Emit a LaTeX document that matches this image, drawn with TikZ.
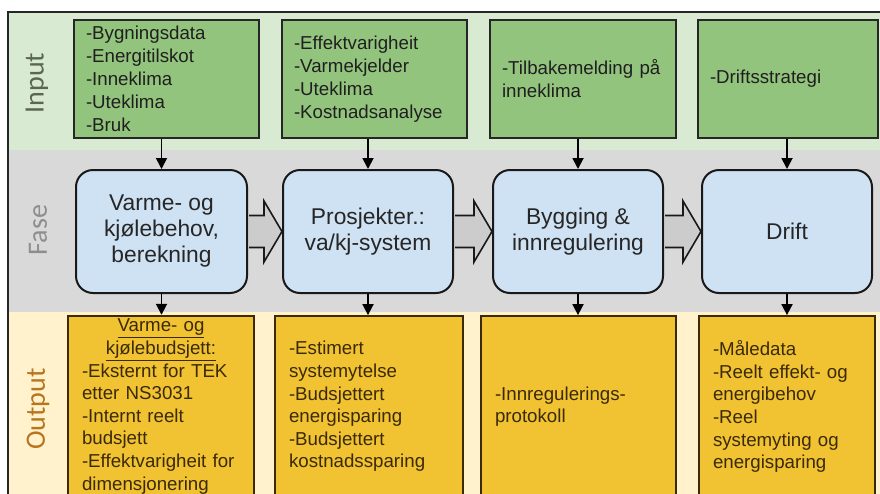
\documentclass[tikz,border=0pt]{standalone}
\usepackage{fontspec}
\setmainfont{Liberation Sans}
\newfontfamily\bandfont{Carlito}
\usetikzlibrary{arrows.meta,positioning,calc}

\definecolor{inband}{HTML}{D9EAD3}
\definecolor{faseband}{HTML}{D9D9D9}
\definecolor{outband}{HTML}{FFF2CC}
\definecolor{ingreen}{HTML}{93C47D}
\definecolor{faseblue}{HTML}{CFE2F3}
\definecolor{outorange}{HTML}{F1C232}
\definecolor{intext}{HTML}{5A6650}
\definecolor{fasetext}{HTML}{8E8E8E}
\definecolor{outtext}{HTML}{B8751F}
\definecolor{brownink}{HTML}{3A2A08}

\begin{document}
\begin{tikzpicture}[
  x=1pt, y=-1pt,
  % Node Styles
  inbox/.style={draw=black!85, line width=1.8pt, fill=ingreen, align=left, minimum height=118pt,
    inner xsep=12pt, text=black!88, font=\fontsize{18.7pt}{23pt}\selectfont},
  fasebox/.style={draw=black!90, line width=2pt, fill=faseblue, rounded corners=17pt, align=center,
    minimum width=170pt, minimum height=123pt, text=black!85, font=\fontsize{22.8pt}{26pt}\selectfont},
  outbox/.style={draw=brownink, line width=1.8pt, fill=outorange, align=left, minimum height=181pt,
    inner xsep=14pt, text=brownink, font=\fontsize{18.7pt}{22.6pt}\selectfont},
  bandlbl/.style={rotate=90, font=\bandfont\fontsize{28pt}{30pt}\selectfont},
  % Line Styles
  flow/.style={-{Triangle[length=11pt,width=11pt]}, line width=1.8pt, black},
  bigarrow/.style={draw=black!90, line width=1.6pt, fill=black!20, line join=miter}
]

\useasboundingbox (0,0) rectangle (880,493);
\clip (0,0) rectangle (880,493);

% ================= BANDS =================
\fill[inband]   (8,12)  rectangle (884,150);
\fill[faseband] (8,150) rectangle (884,312);
\fill[outband]  (8,312) rectangle (884,505);
\draw[line width=1.2pt, black!85] (8,12) rectangle (884,505);

\node[bandlbl, text=intext]   (lblin)   at (37,83)  {Input};
\node[bandlbl, text=fasetext] (lblfase) at (38,230) {Fase};
\node[bandlbl, text=outtext]  (lblout)  at (38,409) {Output};

% ================= NODES =================

% --- Input (Top Row) ---
\node[inbox, text width=161pt] (in1) at (166.5,79) {-Bygningsdata\\-Energitilskot\\-Inneklima\\-Uteklima\\-Bruk};
\node[inbox, text width=161pt] (in2) at (374.5,79) {-Effektvarigheit\\-Varmekjelder\\-Uteklima\\-Kostnadsanalyse};
\node[inbox, text width=162pt] (in3) at (583,79)   {-Tilbakemelding på\\inneklima};
\node[inbox, text width=156pt] (in4) at (788,79)   {-Driftsstrategi};

% --- Fase (Middle Row) ---
\node[fasebox, minimum width=171pt] (ph1) at (161.5,231.5) {Varme- og\\kjølebehov,\\berekning};
\node[fasebox] (ph2) at (368,231.5) {Prosjekter.:\\va/kj-system};
\node[fasebox] (ph3) at (578,231.5) {Bygging \&\\innregulering};
\node[fasebox] (ph4) at (787,231.5) {Drift};

% --- Output (Bottom Row) ---
\node[outbox, text width=158pt] (out1) at (161,406.5)
  {\makebox[158pt][c]{\underline{Varme- og}}\\
   \makebox[158pt][c]{\underline{kjølebudsjett:}}\\
   -Eksternt for TEK\\etter NS3031\\-Internt reelt\\budsjett\\-Effektvarigheit for\\dimensjonering};
\node[outbox, text width=160pt] (out2) at (369,406.5)
  {-Estimert\\systemytelse\\-Budsjettert\\energisparing\\-Budsjettert\\kostnadssparing};
\node[outbox, text width=167pt] (out3) at (578.5,406.5) {-Innregulerings-\\protokoll};
\node[outbox, text width=148pt] (out4) at (787,406.5)
  {-Måledata\\-Reelt effekt- og\\energibehov\\-Reel\\systemyting og\\energisparing};

% ================= CONNECTIONS =================

% 1. Input to Fase
\draw[flow] (ph1.north |- in1.south) -- (ph1.north);
\draw[flow] (ph2.north |- in2.south) -- (ph2.north);
\draw[flow] (ph3.north |- in3.south) -- (ph3.north);
\draw[flow] (ph4.north |- in4.south) -- (ph4.north);

% 2. Fase to Output
\draw[flow] (ph1.south) -- (ph1.south |- out1.north);
\draw[flow] (ph2.south) -- (ph2.south |- out2.north);
\draw[flow] (ph3.south) -- (ph3.south |- out3.north);
\draw[flow] (ph4.south) -- (ph4.south |- out4.north);

% 3. Block arrows between phases
\path[bigarrow] ($(ph1.east)+(1,-16)$) -- ($(ph2.west)+(-18,-16)$) -- ($(ph2.west)+(-18,-30.5)$) -- (ph2.west)
  -- ($(ph2.west)+(-18,30.5)$) -- ($(ph2.west)+(-18,16)$) -- ($(ph1.east)+(1,16)$);
\path[bigarrow] ($(ph2.east)+(1,-16)$) -- ($(ph3.west)+(-18,-16)$) -- ($(ph3.west)+(-18,-30.5)$) -- (ph3.west)
  -- ($(ph3.west)+(-18,30.5)$) -- ($(ph3.west)+(-18,16)$) -- ($(ph2.east)+(1,16)$);
\path[bigarrow] ($(ph3.east)+(1,-16)$) -- ($(ph4.west)+(-18,-16)$) -- ($(ph4.west)+(-18,-30.5)$) -- (ph4.west)
  -- ($(ph4.west)+(-18,30.5)$) -- ($(ph4.west)+(-18,16)$) -- ($(ph3.east)+(1,16)$);

\end{tikzpicture}
\end{document}
